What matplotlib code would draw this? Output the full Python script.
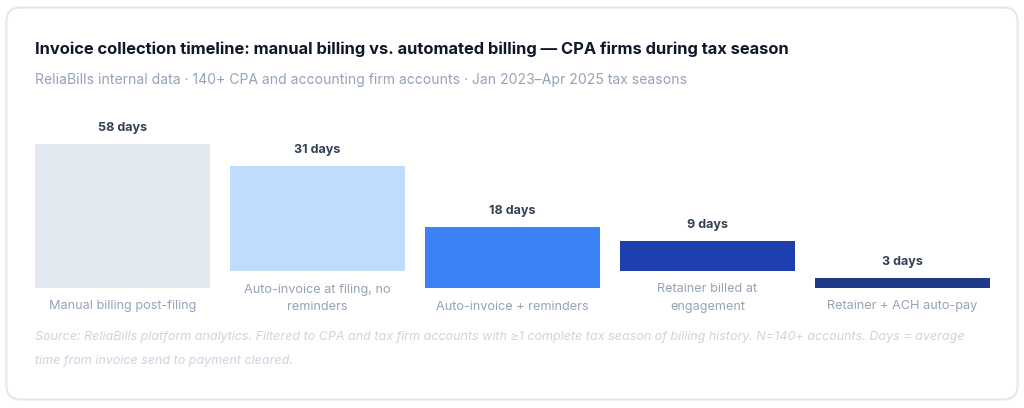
import matplotlib
matplotlib.use("Agg")
import matplotlib.pyplot as plt
from matplotlib.patches import FancyBboxPatch

plt.rcParams["font.family"] = ["Inter", "DejaVu Sans"]

categories = [
    "Manual billing post-filing",
    "Auto-invoice at filing, no\nreminders",
    "Auto-invoice + reminders",
    "Retainer billed at\nengagement",
    "Retainer + ACH auto-pay",
]
days = [58, 31, 18, 9, 3]
bar_colors = ["#E2E8F0", "#BFDBFE", "#3B82F6", "#1E40AF", "#1E3A8A"]

title = "Invoice collection timeline: manual billing vs. automated billing \u2014 CPA firms during tax season"
subtitle = ("ReliaBills internal data \u00b7 140+ CPA and accounting firm accounts \u00b7 "
            "Jan 2023\u2013Apr 2025 tax seasons")
footnote = ("Source: ReliaBills platform analytics. Filtered to CPA and tax firm accounts with \u22651 "
            "complete tax season of billing history. N=140+ accounts. Days = average\n"
            "time from invoice send to payment cleared.")

W, H = 1024, 408
fig = plt.figure(figsize=(W / 100, H / 100), dpi=100)

# background axes in pixel coordinates
bg = fig.add_axes([0, 0, 1, 1])
bg.set_xlim(0, W)
bg.set_ylim(H, 0)
bg.axis("off")
card = FancyBboxPatch((6.5, 7.5), 1011, 392, boxstyle="round,pad=0,rounding_size=14",
                      facecolor="white", edgecolor="#E2E8F0", linewidth=1.5)
bg.add_patch(card)

bg.text(35, 49, title, fontsize=11.87, fontweight="bold", color="#0F172A", va="center", ha="left")
bg.text(35, 80, subtitle, fontsize=10.06, color="#94A3B8", va="center", ha="left")
bg.text(35, 349, footnote, fontsize=9.06, color="#CBD5E1", style="italic", va="center", ha="left",
        linespacing=2.35)

# one column per bar, like a flex row; columns with two-line labels sit higher
px_per_day = 3.38
top_px = 144
col_left = 35
col_w = 175
col_gap = 20

for i, (cat, val, col) in enumerate(zip(categories, days, bar_colors)):
    n_lines = cat.count("\n") + 1
    base_px = 288 - 17 * (n_lines - 1)
    x0 = col_left + i * (col_w + col_gap)
    col_h = base_px - top_px
    ax = fig.add_axes([x0 / W, (H - base_px) / H, col_w / W, col_h / H])
    ymax = col_h / px_per_day
    ax.set_xlim(0, 1)
    ax.set_ylim(0, ymax)
    ax.bar(0.5, val, width=1.0, color=col)
    ax.axis("off")
    ax.annotate(f"{val} days", (0.5, min(val, ymax)), xytext=(0, 7), textcoords="offset points",
                ha="center", va="bottom", fontsize=9.05, fontweight="bold", color="#334155",
                annotation_clip=False)
    ax.text(0.5, -12.5 / col_h, cat, transform=ax.transAxes, ha="center", va="top",
            fontsize=9.16, color="#94A3B8", linespacing=1.6)

fig.savefig("out.png", dpi=100)
